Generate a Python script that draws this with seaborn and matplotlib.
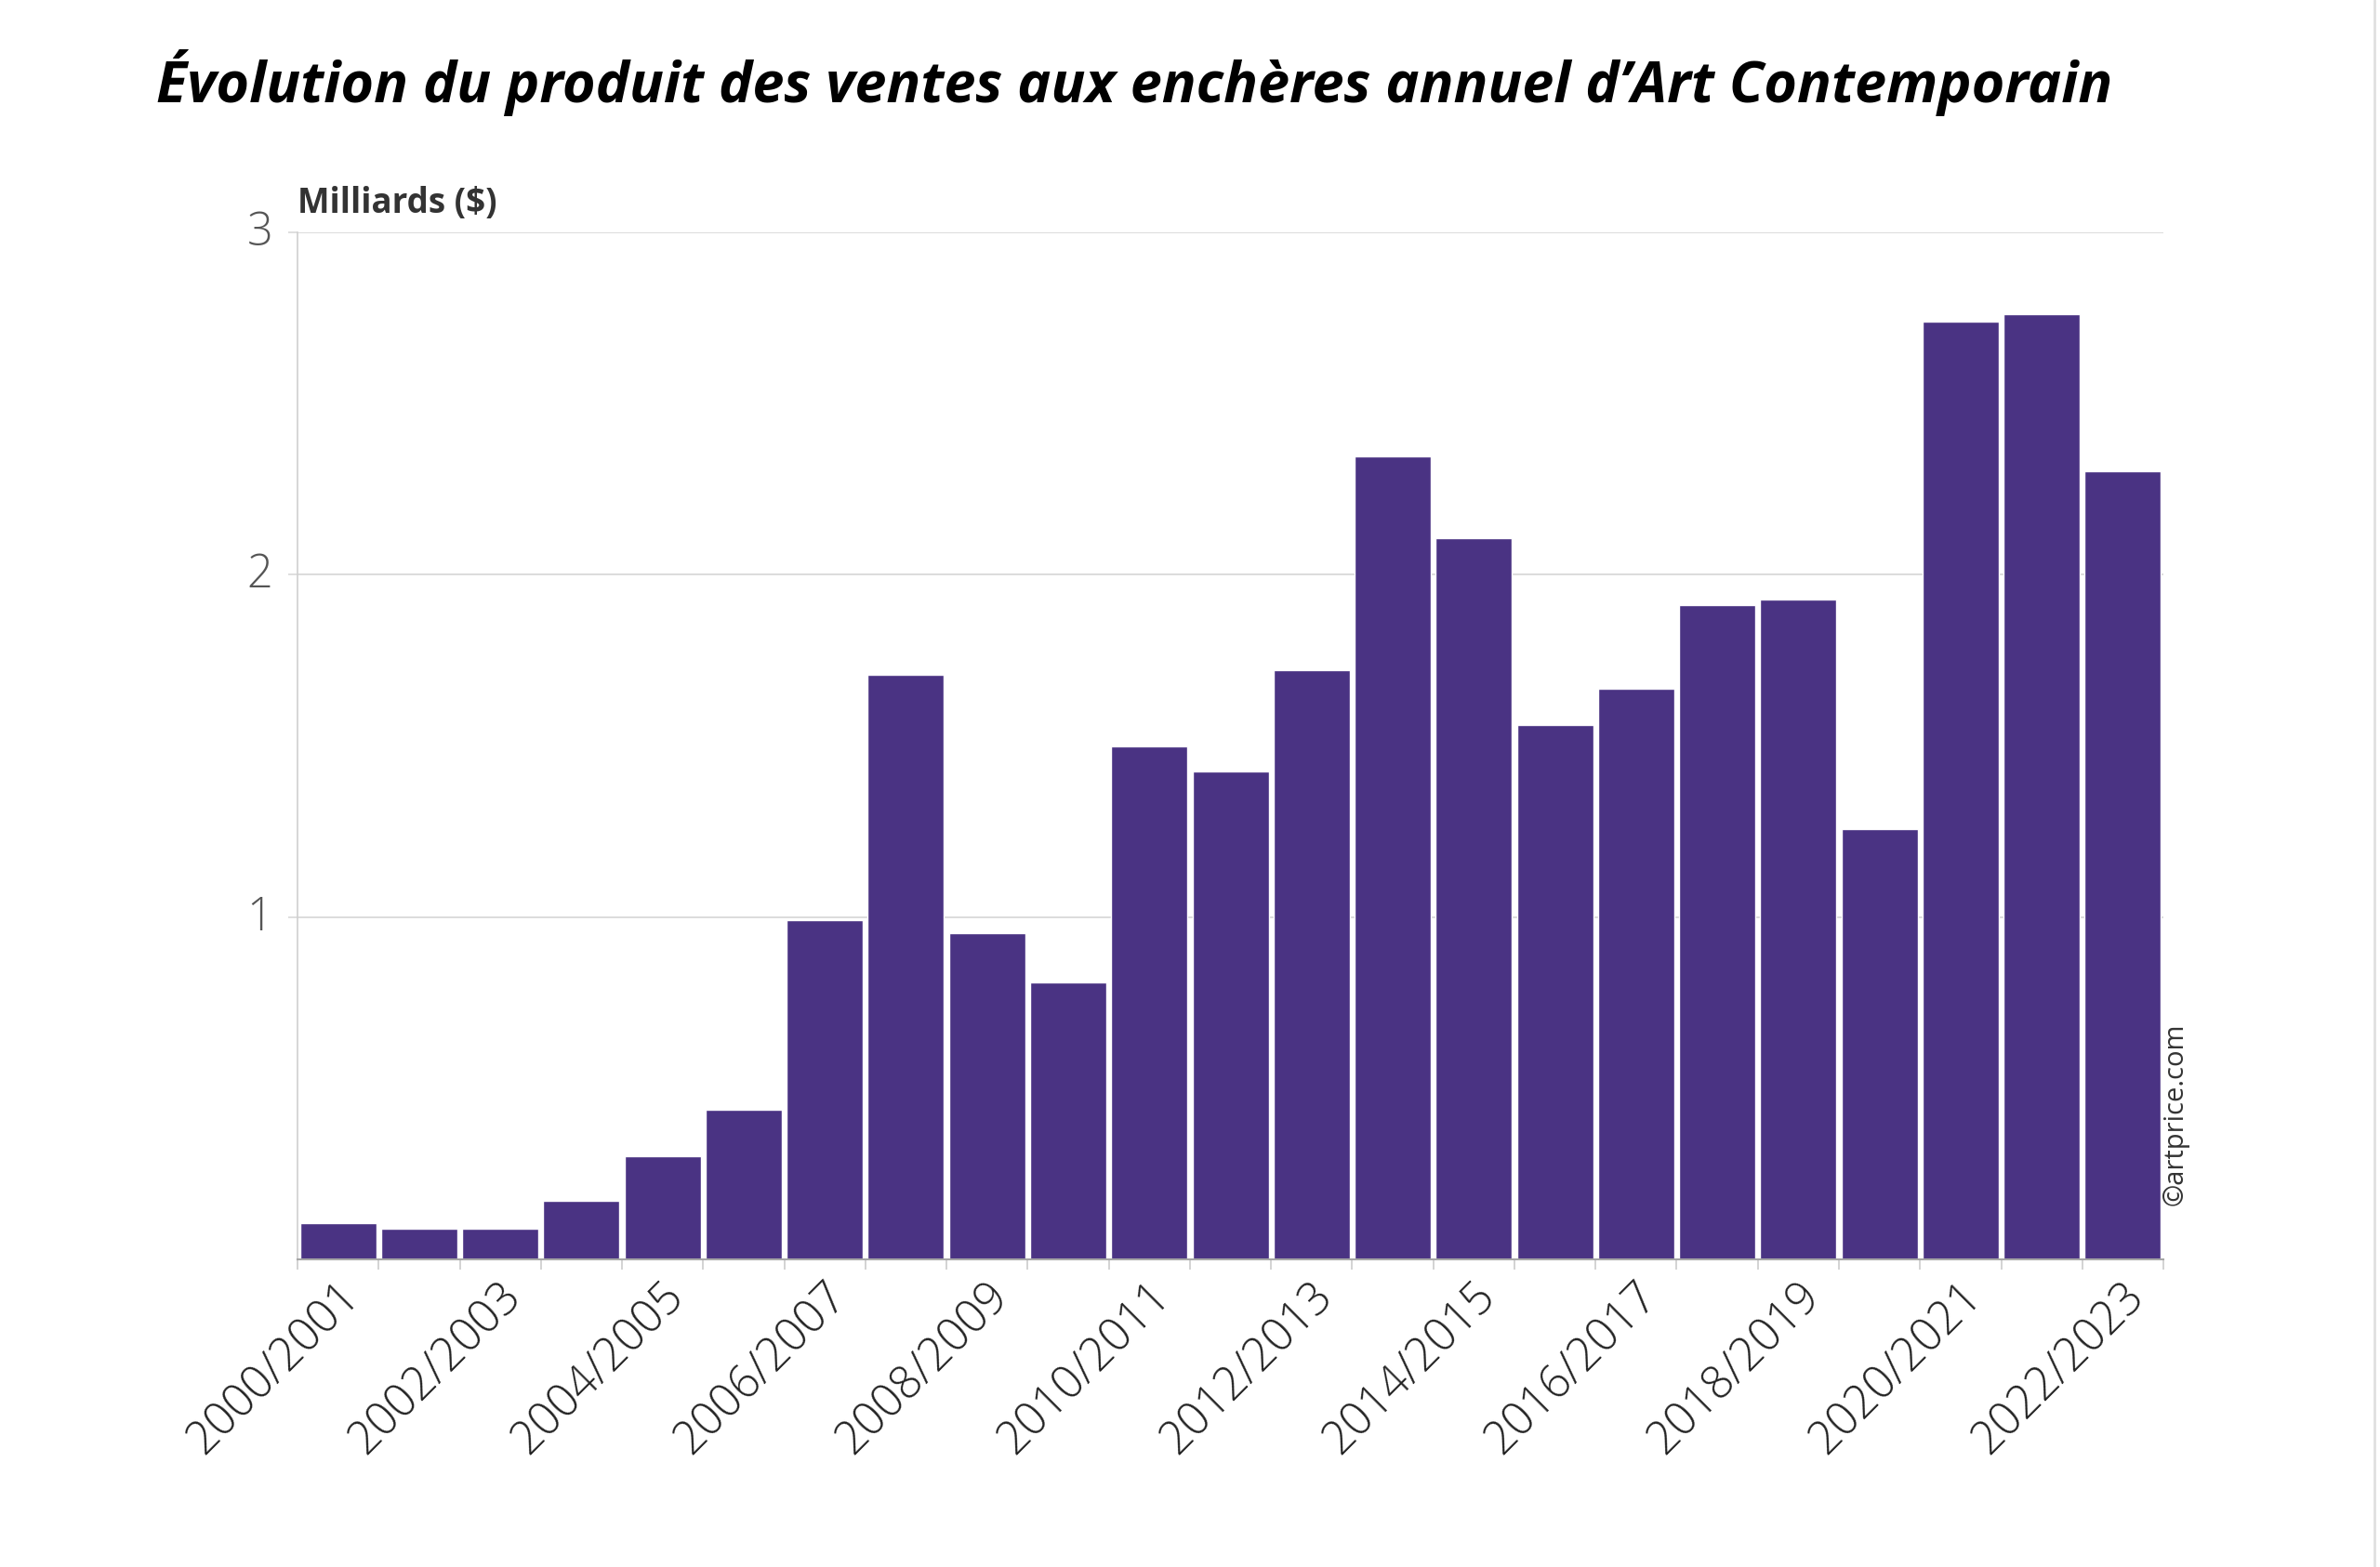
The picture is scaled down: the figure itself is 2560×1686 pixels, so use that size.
import pandas as pd
import seaborn as sns
from matplotlib import pyplot as plt
import matplotlib.transforms as mtransforms

# season labels, one bar per season
seasons = ['2000/2001', '2001/2002', '2002/2003', '2003/2004', '2004/2005', '2005/2006',
           '2006/2007', '2007/2008', '2008/2009', '2009/2010', '2010/2011', '2011/2012',
           '2012/2013', '2013/2014', '2014/2015', '2015/2016', '2016/2017', '2017/2018',
           '2018/2019', '2019/2020', '2020/2021', '2021/2022', '2022/2023']
# auction turnover, billions of dollars
turnover = [0.105, 0.090, 0.091, 0.171, 0.302, 0.436, 0.992, 1.707, 0.954, 0.810,
            1.500, 1.425, 1.722, 2.347, 2.108, 1.560, 1.666, 1.911, 1.929, 1.258,
            2.739, 2.761, 2.301]
y_ticks = [1, 2, 3]

title = "Évolution du produit des ventes aux enchères annuel d’Art Contemporain"
y_title = 'Milliards ($)'
credit = '©artprice.com'

df = pd.DataFrame({'season': seasons, 'turnover': turnover})

sns.set_theme(style='white')
plt.rcParams['font.family'] = ['Open Sans', 'DejaVu Sans']

fig = plt.figure(figsize=(25.6, 16.86), dpi=100)
ax = fig.add_axes([0.125, 0.1963, 0.784, 0.6554])

sns.barplot(data=df, x='season', y='turnover', color='#4a3383', saturation=1,
            width=0.94, ax=ax)

ax.set_xlim(-0.5, len(seasons) - 0.5)
ax.set_ylim(0, 3)
ax.set_xlabel('')
ax.set_ylabel('')

# grid
ax.set_yticks(y_ticks)
ax.set_yticklabels([str(t) for t in y_ticks], fontsize=35, fontweight='light', color='#555555')
ax.yaxis.grid(True, color='#d9d9d9', linewidth=1.3)
ax.set_axisbelow(True)
ax.tick_params(axis='y', length=7, width=1.2, color='#d9d9d9', pad=12, left=True)
lift = mtransforms.ScaledTranslation(0, 0.05, fig.dpi_scale_trans)
for lab in ax.get_yticklabels():
    lab.set_transform(lab.get_transform() + lift)

# x axis: labels every second season, ticks between bars
shown = list(range(0, len(seasons), 2))
ax.set_xticks(shown)
ax.set_xticklabels([seasons[i] for i in shown], rotation=45, ha='right',
                   rotation_mode='anchor', fontsize=35, fontweight='light', color='#222222')
ax.set_xticks([i - 0.5 for i in range(len(seasons) + 1)], minor=True)
ax.tick_params(axis='x', which='major', length=0, pad=11)
ax.tick_params(axis='x', which='minor', length=8, width=1.2, color='#cccccc', bottom=True)
shift = mtransforms.ScaledTranslation(-0.02, 0, fig.dpi_scale_trans)
for lab in ax.get_xticklabels():
    lab.set_transform(lab.get_transform() + shift)

for side in ['top', 'right']:
    ax.spines[side].set_visible(False)
ax.spines['left'].set_color('#d0d0d0')
ax.spines['left'].set_linewidth(1.2)
ax.spines['bottom'].set_color('#a6a6a6')
ax.spines['bottom'].set_linewidth(1.5)

fig.text(0.0656, 0.947, title, fontsize=44, fontweight='bold', fontstyle='italic',
         ha='left', va='center', color='black')
fig.text(0.125, 0.870, y_title, fontsize=26.5, fontweight='bold', ha='left', va='center',
         color='#333333')
fig.text(0.914, 0.289, credit, fontsize=21, rotation=90, ha='center', va='center',
         color='#333333')

# faint frame line on the right edge
fig.add_artist(plt.Line2D([0.9975, 0.9975], [0, 1], transform=fig.transFigure,
                          color='#e0e0e0', linewidth=2))

fig.savefig('out.png', dpi=100, facecolor='white')
